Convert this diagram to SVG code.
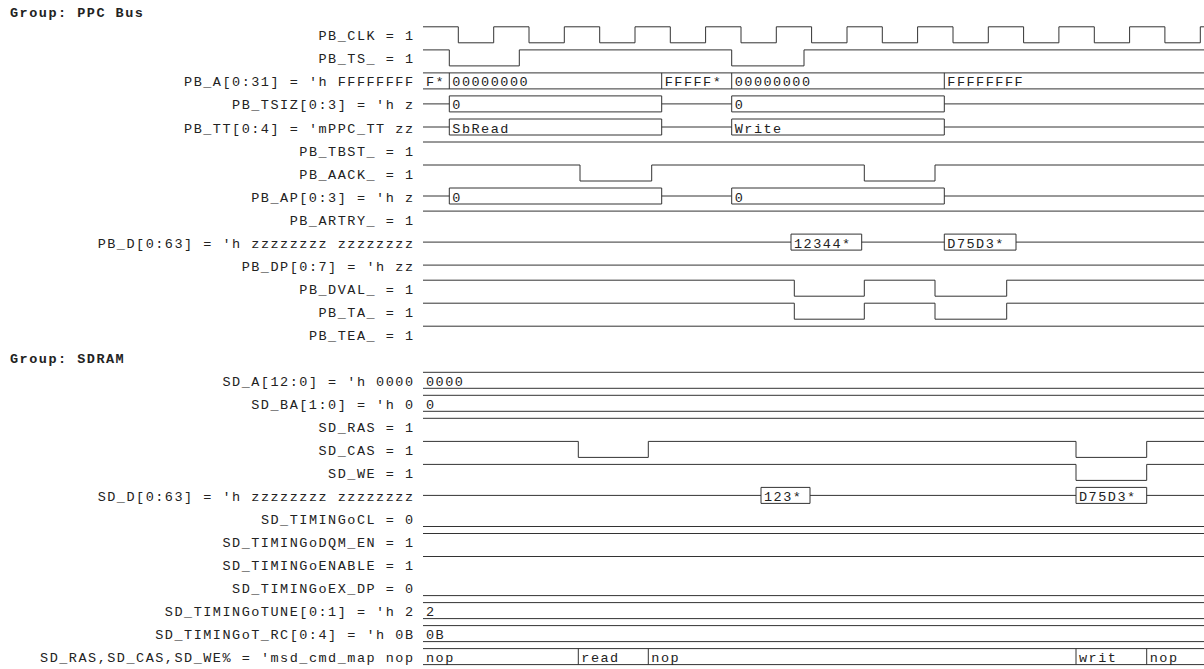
<svg xmlns="http://www.w3.org/2000/svg" width="1204" height="669" viewBox="0 0 1204 669">
<style>
text{font-family:"Liberation Mono","Courier New",monospace;font-size:13.5px;letter-spacing:1.5px;fill:#222}
.lbl{text-anchor:end}
.grp{font-weight:bold}
.w{fill:none;stroke:#333;stroke-width:1}
</style>
<rect width="1204" height="669" fill="#fff"/>
<g id="group-ppc"><text class="grp" x="10" y="17.3">Group: PPC Bus</text></g>
<g id="connectors">
<g id="PB_CLK" transform="translate(0,26.8)"><text class="lbl" x="414.5" y="13.5">PB_CLK = 1</text>
<path class="w" d="M423,0H458.3V16H493.7V0H529V16H564.3V0H599.7V16H635V0H670.3V16H705.6V0H741V16H776.3V0H811.6V16H847V0H882.3V16H917.6V0H953V16H988.3V0H1023.6V16H1058.9V0H1094.3V16H1129.6V0H1164.9V16H1200.3V0H1204"/></g>
<g id="PB_TS_" transform="translate(0,49.9)"><text class="lbl" x="414.5" y="13.5">PB_TS_ = 1</text>
<path class="w" d="M423,0H449.3V16H519.3V0H731.7V16H804V0H1204"/></g>
<g id="PB_A" transform="translate(0,72.9)"><text class="lbl" x="414.5" y="13.5">PB_A[0:31] = 'h FFFFFFFF</text>
<path class="w" d="M423,0H1204M423,16H1204M449.3,0V16M661.7,0V16M731.7,0V16M944.3,0V16"/>
<text x="426" y="13.5">F*</text><text x="452.3" y="13.5">00000000</text><text x="664.7" y="13.5">FFFFF*</text><text x="734.7" y="13.5">00000000</text><text x="947.3" y="13.5">FFFFFFFF</text></g>
<g id="PB_TSIZ" transform="translate(0,95.9)"><text class="lbl" x="414.5" y="13.5">PB_TSIZ[0:3] = 'h z</text>
<path class="w" d="M423,8H449.3M661.7,8H731.7M944.3,8H1204M449.3,0H661.7V16H449.3ZM731.7,0H944.3V16H731.7Z"/>
<text x="452.3" y="13.5">0</text><text x="734.7" y="13.5">0</text></g>
<g id="PB_TT" transform="translate(0,119)"><text class="lbl" x="414.5" y="13.5">PB_TT[0:4] = 'mPPC_TT zz</text>
<path class="w" d="M423,8H449.3M661.7,8H731.7M944.3,8H1204M449.3,0H661.7V16H449.3ZM731.7,0H944.3V16H731.7Z"/>
<text x="452.3" y="13.5">SbRead</text><text x="734.7" y="13.5">Write</text></g>
<g id="PB_TBST_" transform="translate(0,142)"><text class="lbl" x="414.5" y="13.5">PB_TBST_ = 1</text>
<path class="w" d="M423,0H1204"/></g>
<g id="PB_AACK_" transform="translate(0,165)"><text class="lbl" x="414.5" y="13.5">PB_AACK_ = 1</text>
<path class="w" d="M423,0H580V16H651.7V0H864.3V16H935V0H1204"/></g>
<g id="PB_AP" transform="translate(0,188)"><text class="lbl" x="414.5" y="13.5">PB_AP[0:3] = 'h z</text>
<path class="w" d="M423,8H449.3M661.7,8H731.7M944.3,8H1204M449.3,0H661.7V16H449.3ZM731.7,0H944.3V16H731.7Z"/>
<text x="452.3" y="13.5">0</text><text x="734.7" y="13.5">0</text></g>
<g id="PB_ARTRY_" transform="translate(0,211.1)"><text class="lbl" x="414.5" y="13.5">PB_ARTRY_ = 1</text>
<path class="w" d="M423,0H1204"/></g>
<g id="PB_D" transform="translate(0,234.1)"><text class="lbl" x="414.5" y="13.5">PB_D[0:63] = 'h zzzzzzzz zzzzzzzz</text>
<path class="w" d="M423,8H791M861.7,8H944.3M1016,8H1204M791,0H861.7V16H791ZM944.3,0H1016V16H944.3Z"/>
<text x="794" y="13.5">12344*</text><text x="947.3" y="13.5">D75D3*</text></g>
<g id="PB_DP" transform="translate(0,257.1)"><text class="lbl" x="414.5" y="13.5">PB_DP[0:7] = 'h zz</text>
<path class="w" d="M423,8H1204"/></g>
<g id="PB_DVAL_" transform="translate(0,280.2)"><text class="lbl" x="414.5" y="13.5">PB_DVAL_ = 1</text>
<path class="w" d="M423,0H794.3V16H864.3V0H935V16H1006.7V0H1204"/></g>
<g id="PB_TA_" transform="translate(0,303.2)"><text class="lbl" x="414.5" y="13.5">PB_TA_ = 1</text>
<path class="w" d="M423,0H794.3V16H864.3V0H935V16H1006.7V0H1204"/></g>
<g id="PB_TEA_" transform="translate(0,326.2)"><text class="lbl" x="414.5" y="13.5">PB_TEA_ = 1</text>
<path class="w" d="M423,0H1204"/></g>
</g>
<g id="group-sdram"><text class="grp" x="10" y="362.8">Group: SDRAM</text></g>
<g id="connectors-sdram">
<g id="SD_A" transform="translate(0,372.3)"><text class="lbl" x="414.5" y="13.5">SD_A[12:0] = 'h 0000</text>
<path class="w" d="M423,0H1204M423,16H1204"/><text x="426" y="13.5">0000</text></g>
<g id="SD_BA" transform="translate(0,395.3)"><text class="lbl" x="414.5" y="13.5">SD_BA[1:0] = 'h 0</text>
<path class="w" d="M423,0H1204M423,16H1204"/><text x="426" y="13.5">0</text></g>
<g id="SD_RAS" transform="translate(0,418.3)"><text class="lbl" x="414.5" y="13.5">SD_RAS = 1</text>
<path class="w" d="M423,0H1204"/></g>
<g id="SD_CAS" transform="translate(0,441.4)"><text class="lbl" x="414.5" y="13.5">SD_CAS = 1</text>
<path class="w" d="M423,0H578.3V16H648.3V0H1076V16H1146.7V0H1204"/></g>
<g id="SD_WE" transform="translate(0,464.4)"><text class="lbl" x="414.5" y="13.5">SD_WE = 1</text>
<path class="w" d="M423,0H1076V16H1146.7V0H1204"/></g>
<g id="SD_D" transform="translate(0,487.4)"><text class="lbl" x="414.5" y="13.5">SD_D[0:63] = 'h zzzzzzzz zzzzzzzz</text>
<path class="w" d="M423,8H761M810,8H1076M1146.7,8H1204M761,0H810V16H761ZM1076,0H1146.7V16H1076Z"/>
<text x="764" y="13.5">123*</text><text x="1079" y="13.5">D75D3*</text></g>
<g id="SD_TIMINGoCL" transform="translate(0,510.5)"><text class="lbl" x="414.5" y="13.5">SD_TIMINGoCL = 0</text>
<path class="w" d="M423,16H1204"/></g>
<g id="SD_TIMINGoDQM_EN" transform="translate(0,533.5)"><text class="lbl" x="414.5" y="13.5">SD_TIMINGoDQM_EN = 1</text>
<path class="w" d="M423,0H1204"/></g>
<g id="SD_TIMINGoENABLE" transform="translate(0,556.5)"><text class="lbl" x="414.5" y="13.5">SD_TIMINGoENABLE = 1</text>
<path class="w" d="M423,0H1204"/></g>
<g id="SD_TIMINGoEX_DP" transform="translate(0,579.6)"><text class="lbl" x="414.5" y="13.5">SD_TIMINGoEX_DP = 0</text>
<path class="w" d="M423,16H1204"/></g>
<g id="SD_TIMINGoTUNE" transform="translate(0,602.6)"><text class="lbl" x="414.5" y="13.5">SD_TIMINGoTUNE[0:1] = 'h 2</text>
<path class="w" d="M423,0H1204M423,16H1204"/><text x="426" y="13.5">2</text></g>
<g id="SD_TIMINGoT_RC" transform="translate(0,625.6)"><text class="lbl" x="414.5" y="13.5">SD_TIMINGoT_RC[0:4] = 'h 0B</text>
<path class="w" d="M423,0H1204M423,16H1204"/><text x="426" y="13.5">0B</text></g>
<g id="SD_CMD" transform="translate(0,648.6)"><text class="lbl" x="414.5" y="13.5">SD_RAS,SD_CAS,SD_WE% = 'msd_cmd_map nop</text>
<path class="w" d="M423,0H1204M423,16H1204M578.3,0V16M648.3,0V16M1076,0V16M1146.7,0V16"/>
<text x="426" y="13.5">nop</text><text x="581.3" y="13.5">read</text><text x="651.3" y="13.5">nop</text><text x="1079" y="13.5">writ</text><text x="1149.7" y="13.5">nop</text></g>
</g>
</svg>
